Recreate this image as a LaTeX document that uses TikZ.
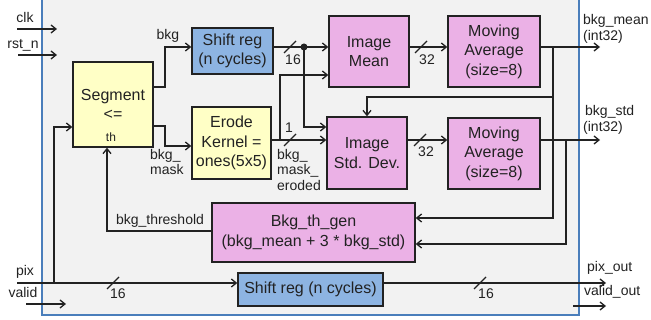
\documentclass[tikz,border=0pt]{standalone}
\usepackage{fontspec}
\setmainfont{Liberation Sans}
\usetikzlibrary{arrows.meta}
\definecolor{frameblue}{HTML}{4A7EBB}
\definecolor{bggray}{HTML}{F2F2F2}
\definecolor{yelbox}{HTML}{FFFFC6}
\definecolor{pinkbox}{HTML}{EBB1E6}
\definecolor{bluebox}{HTML}{8DB4E2}
\definecolor{ink}{HTML}{222222}
\begin{document}
\begin{tikzpicture}[x=1pt,y=-1pt,
  box/.style={draw=ink, line width=1.3pt, align=center, inner sep=1pt, text=ink,
    font=\fontsize{16}{19.5}\selectfont},
  lbl/.style={font=\fontsize{14}{15.5}\selectfont, inner sep=0pt, text=ink, align=left},
  wire/.style={draw=ink, line width=1.3pt},
  arr/.style={wire, -{Straight Barb[length=5pt,width=8pt]}},
  slash/.style={draw=ink, line width=1.2pt}]
\useasboundingbox (0,0) rectangle (651,320);
\fill[white] (0,0) rectangle (651,320);
\draw[frameblue, line width=2pt, fill=bggray] (42,-10) rectangle (579,315);

% boxes
\node[box, fill=yelbox, minimum width=80pt, minimum height=85pt] (seg) at (113,104.5) {Segment\\{<=}};
\node[lbl, font=\fontsize{12}{13}\selectfont] (th) at (111,137) {th};
\node[box, fill=bluebox, minimum width=81pt, minimum height=46pt] (sr1) at (232.5,51) {Shift reg\\(n cycles)};
\node[box, fill=yelbox, minimum width=79pt, minimum height=72pt] (erode) at (231.5,143) {Erode\\Kernel =\\ones(5x5)};
\node[box, fill=pinkbox, minimum width=80pt, minimum height=71pt] (mean) at (369,51.5) {Image\\Mean};
\node[box, fill=pinkbox, minimum width=80pt, minimum height=72pt] (std) at (367,153) {Image\\Std. Dev.};
\node[box, fill=pinkbox, minimum width=92pt, minimum height=71pt] (ma1) at (494,51.5) {Moving\\Average\\(size=8)};
\node[box, fill=pinkbox, minimum width=92pt, minimum height=71pt] (ma2) at (494,153.5) {Moving\\Average\\(size=8)};
\node[box, fill=pinkbox, minimum width=203pt, minimum height=59pt] (bth) at (313.5,232.5) {Bkg\_th\_gen\\(bkg\_mean + 3 * bkg\_std)};
\node[box, fill=bluebox, minimum width=145pt, minimum height=33pt] (sr2) at (310.5,289.5) {Shift reg (n cycles)};

% free ends
\coordinate (clkA) at (17,29);  \coordinate (clkB) at (57,29);
\coordinate (rstA) at (18,55);  \coordinate (rstB) at (57,55);
\coordinate (pixA) at (17,283); \coordinate (tap) at (54,283);
\coordinate (valA) at (26,304); \coordinate (valB) at (66,304);
\coordinate (vaoA) at (573,306); \coordinate (vaoB) at (606,306);
\coordinate (pixO) at (606,283);
\coordinate (meanO) at (600,47);
\coordinate (stdO) at (600,140);
\coordinate (dot) at (304,47);
\coordinate (ebr) at (280,140);
\coordinate (j1) at (553,47);
\coordinate (j1b) at (553,97);
\coordinate (j2) at (566,140);

% input labels
\node[lbl] (clkl) at (25,18) {clk};
\node[lbl] (rstl) at (23,45) {rst\_n};
\node[lbl] (pixl) at (25,272) {pix};
\node[lbl] (vall) at (23,292) {valid};
\draw[arr] (clkA) -- (clkB);
\draw[arr] (rstA) -- (rstB);
\draw[arr] (valA) -- (valB);

% pix path
\draw[arr] (pixA) -- (sr2.west |- 0,283);
\draw[arr] (tap) |- (seg.west |- 0,127);
\draw[slash] (113,283) ++(-6,6) -- ++(12,-12);
\node[lbl] (n16a) at (118,294) {16};

% segment outputs
\draw[arr] (seg.east |- 0,87) -- (165,87) |- (sr1.west |- 0,47);
\node[lbl] (bkgl) at (168,36) {bkg};
\draw[arr] (seg.east |- 0,126) -- (165,126) |- (erode.west |- 0,146);
\node[lbl, anchor=north west] (bkgml) at (150,149) {bkg\_\\mask};

% threshold feedback
\draw[arr] (bth.west |- 0,231) -| (107,0 |- seg.south);
\node[lbl] (thl) at (160,221) {bkg\_threshold};

% shift reg 1 output
\draw[wire] (sr1.east |- 0,47) -- (dot);
\fill[ink] (dot) circle (3.5pt);
\draw[arr] (dot) -- (mean.west |- 0,47);
\draw[arr] (dot) |- (std.west |- 0,127);
\draw[slash] (290,47) ++(-6,6) -- ++(12,-12);
\node[lbl] (n16b) at (293,60) {16};

% erode output
\draw[arr] (erode.east |- 0,140) -- (std.west |- 0,140);
\draw[arr] (ebr) |- (mean.west |- 0,75);
\draw[slash] (290,140) ++(-6,6) -- ++(12,-12);
\node[lbl] (n1) at (289,128) {1};
\node[lbl, anchor=north west] (bkgel) at (277,149) {bkg\_\\mask\_\\eroded};

% mean / std to moving average
\draw[arr] (mean.east |- 0,47) -- (ma1.west |- 0,47);
\draw[slash] (421,47) ++(-6,6) -- ++(12,-12);
\node[lbl] (n32a) at (427,60) {32};
\draw[arr] (std.east |- 0,140) -- (ma2.west |- 0,140);
\draw[slash] (420,140) ++(-6,6) -- ++(12,-12);
\node[lbl] (n32b) at (426,152) {32};

% moving average outputs
\draw[arr] (ma1.east |- 0,47) -- (meanO);
\node[lbl, anchor=west] (bmean) at (583,21) {bkg\_mean};
\node[lbl, anchor=west] (bmeani) at (583,37) {(int32)};
\draw[arr] (j1) |- (bth.east |- 0,218);
\draw[arr] (j1b) -| (std.north);
\draw[arr] (ma2.east |- 0,140) -- (stdO);
\node[lbl, anchor=west] (bstd) at (585,112) {bkg\_std};
\node[lbl, anchor=west] (bstdi) at (583,128) {(int32)};
\draw[arr] (j2) |- (bth.east |- 0,244);

% shift reg 2 output
\draw[arr] (sr2.east |- 0,283) -- (pixO);
\draw[slash] (480,283) ++(-6,6) -- ++(12,-12);
\node[lbl] (n16c) at (486,294) {16};
\node[lbl, anchor=west] (pixol) at (587,268) {pix\_out};
\draw[arr] (vaoA) -- (vaoB);
\node[lbl, anchor=west] (vaol) at (584,292) {valid\_out};
\end{tikzpicture}
\end{document}
